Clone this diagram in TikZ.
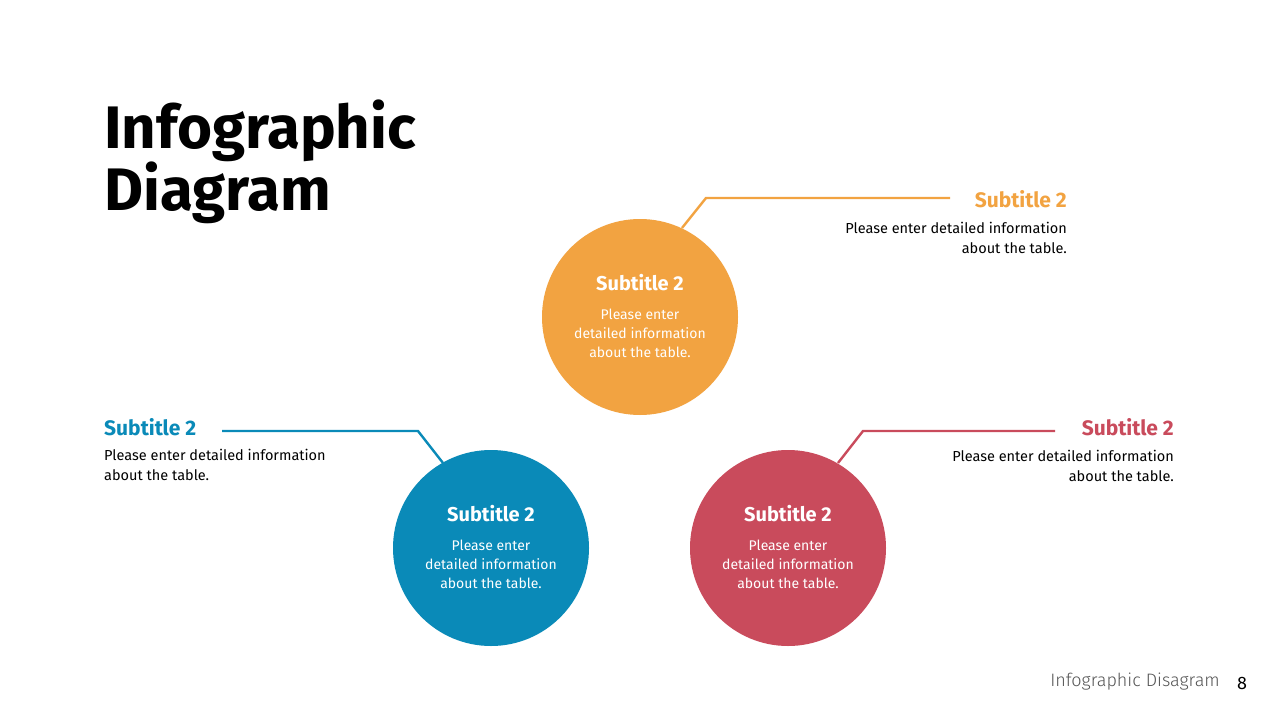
\documentclass[tikz,border=0pt]{standalone}
\usepackage{fontspec}
\setmainfont{Fira Sans}
\newfontfamily\lightfont{Fira Sans Light}
\definecolor{corange}{HTML}{F2A341}
\definecolor{cblue}{HTML}{0A8AB8}
\definecolor{cred}{HTML}{C94B5C}
\definecolor{cgray}{HTML}{555555}
\begin{document}
\begin{tikzpicture}[x=1pt,y=1pt,
  circ/.style={circle,minimum size=196pt,inner sep=0pt},
  ctitle/.style={text=white,font=\fontsize{20}{24}\selectfont\bfseries},
  cbody/.style={text=white,font=\fontsize{14}{19}\selectfont,align=center},
  stitle/.style={font=\fontsize{21}{25}\selectfont\bfseries,inner sep=0pt},
  sbody/.style={font=\fontsize{14.5}{20}\selectfont,inner sep=0pt,text=black},
  conn/.style={line width=2.4pt}]
\useasboundingbox (0,0) rectangle (1280,-720);
\fill[white] (0,0) rectangle (1280,-720);
\node[anchor=north west,inner sep=0pt,align=left,font=\fontsize{60}{62}\selectfont\bfseries] (title) at (104,-100) {Infographic\\Diagram};
% circles
\node[circ,fill=corange] (co) at (640,-317) {};
\node[circ,fill=cblue] (cb) at (491,-548) {};
\node[circ,fill=cred] (cr) at (788,-548) {};
\foreach \n/\x/\y in {o/640/-317,b/491/-548,r/788/-548}{
  \node[ctitle] (t\n) at (\x,\y+34) {Subtitle 2};
  \node[cbody] (b\n) at (\x,\y-16) {Please enter\\detailed information\\about the table.};
}
% orange connector
\coordinate (o1) at (682,-228); \coordinate (o2) at (706,-198); \coordinate (o3) at (950,-198);
\draw[conn,corange] (o1) -- (o2) -- (o3);
\node[stitle,text=corange,anchor=east] (so) at (1067,-199) {Subtitle 2};
\node[sbody,anchor=north east,align=right] (do) at (1067,-222) {Please enter detailed information\\about the table.};
% blue connector
\coordinate (b1) at (443,-463); \coordinate (b2) at (418,-431); \coordinate (b3) at (222,-431);
\draw[conn,cblue] (b1) -- (b2) -- (b3);
\node[stitle,text=cblue,anchor=west] (sb) at (104,-427) {Subtitle 2};
\node[sbody,anchor=north west,align=left] (db) at (104,-449) {Please enter detailed information\\about the table.};
% red connector
\coordinate (r1) at (838,-463); \coordinate (r2) at (863,-431); \coordinate (r3) at (1055,-431);
\draw[conn,cred] (r1) -- (r2) -- (r3);
\node[stitle,text=cred,anchor=east] (sr) at (1174,-427) {Subtitle 2};
\node[sbody,anchor=north east,align=right] (dr) at (1174,-450) {Please enter detailed information\\about the table.};
% footer
\node[anchor=east,inner sep=0pt,text=cgray,font=\lightfont\fontsize{18}{20}\selectfont] (ft) at (1220,-682) {Infographic Disagram};
\node[anchor=center,inner sep=0pt,font=\fontsize{18}{20}\selectfont] (pg) at (1242,-683) {8};
\end{tikzpicture}
\end{document}
